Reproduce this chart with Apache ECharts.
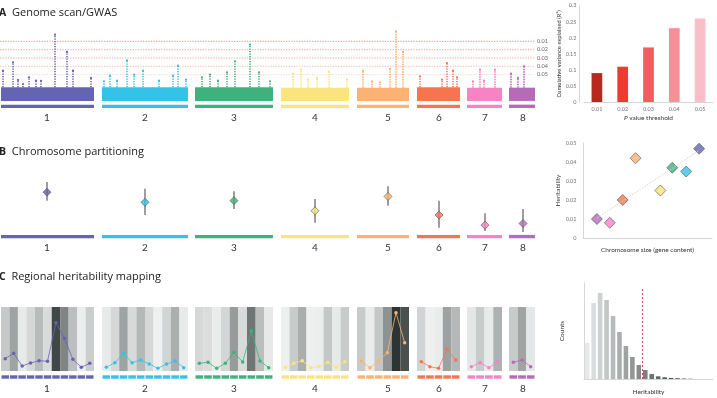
<!DOCTYPE html>
<html>
<head>
<meta charset="utf-8">
<script src="https://cdn.jsdelivr.net/npm/echarts@6/dist/echarts.min.js"></script>
<style>
  html, body { margin: 0; padding: 0; background: #fff; }
  #chart { width: 717px; height: 398px; }
</style>
</head>
<body>
<div id="chart"></div>
<script>
// chromosomes (positions along the genome axis)
const chrNames = ['1', '2', '3', '4', '5', '6', '7', '8']
const chrColors = ['#6464b2', '#33c3e8', '#3db27c', '#fbe37e', '#fdb274', '#f6754f', '#f782c4', '#b66bb9']
const chrStart = [1, 102, 195, 281, 357, 417, 467, 509]
const chrEnd = [94, 188, 273, 349, 409, 460, 502, 535]
const chrMid = [47, 145, 234, 315, 388, 439, 485, 523]

// A - genome scan (-log10 P)
const blobTop = [1.57, 1.57, 1.57, 1.52, 1.52, 1.57, 1.52, 1.52]
const peakPos = [
  [3, 13, 18, 23, 29, 36, 41, 55, 67, 73, 91],
  [104, 110, 117, 127, 134, 143, 159, 173, 178, 186],
  [202, 210, 218, 227, 235, 250, 259, 270],
  [293, 301, 308, 317, 329, 347],
  [363, 372, 380, 390, 396, 403],
  [420, 442, 447, 453, 457],
  [473, 480, 484, 495],
  [511, 518, 524]
]
const peakVal = [
  [3.46, 4.42, 2.4, 1.94, 2.71, 2.32, 2.29, 7.58, 5.6, 3.46, 2.63],
  [2.25, 2.89, 2.32, 4.65, 3.0, 3.46, 2.32, 2.89, 4.03, 2.43],
  [2.71, 3.0, 2.32, 3.28, 4.54, 6.43, 3.28, 2.25],
  [3.12, 3.6, 2.43, 2.63, 3.35, 2.43],
  [3.46, 2.25, 2.14, 3.66, 7.97, 5.6],
  [2.82, 2.43, 4.34, 3.46, 2.71],
  [2.25, 3.58, 2.32, 3.58],
  [3.12, 2.63, 3.97]
]
const thresholdP = ['0.01', '0.02', '0.03', '0.04', '0.05']
const thresholdLog = [6.82, 5.86, 4.91, 3.97, 3.01]
const thresholdAlpha = [0.95, 0.85, 0.75, 0.6, 0.35]

// A right - cumulative variance explained
const pThresh = ['0.01', '0.02', '0.03', '0.04', '0.05']
const cumR2 = [0.09, 0.11, 0.17, 0.23, 0.26]
const barColors = ['#b8281f', '#ee3a31', '#f55c61', '#f78f99', '#f9bec8']

// B - chromosome partitioning
const chrH = [0.047, 0.035, 0.037, 0.025, 0.042, 0.020, 0.008, 0.010]
const chrHLo = [0.037, 0.020, 0.027, 0.011, 0.031, 0.005, 0.001, 0.000]
const chrHHi = [0.059, 0.051, 0.048, 0.039, 0.054, 0.037, 0.022, 0.027]
const chrSize = [117, 104, 90, 78, 53, 40, 27, 14]
const trendX = [14, 117]
const trendY = [0.0105, 0.046]

// C - regional heritability (per window) and region shading
const regionH = [
  [12.3, 17.7, 5, 8, 10.3, 9.7, 48.3, 32.7, 11.7, 3.7, 7.7],
  [3.7, 8.3, 17.7, 8.3, 11, 7, 2.7, 7, 10, 3.3],
  [7.7, 8.7, 2.7, 7.7, 18.7, 9, 40, 10, 3.3],
  [3.7, 7.7, 10.3, 3.3, 4.7, 8.7, 3.7, 9.3],
  [10, 3.3, 10, 18.3, 58.3, 28.3],
  [9.3, 4.3, 2.7, 21.7, 11],
  [4.3, 8.3, 3.3, 9.3],
  [8.7, 11, 4.3]
]
const regionShade = [
  [0.21, 0.41, 0.03, 0.13, 0.28, 0.11, 0.9, 0.57, 0.26, 0.01, 0.18],
  [0.03, 0.13, 0.41, 0.12, 0.3, 0.13, 0.0, 0.15, 0.35, 0.03],
  [0.13, 0.1, 0.02, 0.14, 0.45, 0.11, 0.65, 0.27, 0.04],
  [0.0, 0.2, 0.35, 0.0, 0.01, 0.22, 0.03, 0.2],
  [0.2, 0.02, 0.22, 0.5, 1.0, 0.85],
  [0.15, 0.0, 0.02, 0.42, 0.3],
  [0.05, 0.2, 0.03, 0.33],
  [0.2, 0.4, 0.05]
]

// C right - histogram of regional heritability
const histX = [0.005, 0.015, 0.025, 0.035, 0.045, 0.055, 0.065, 0.075, 0.085, 0.095, 0.105, 0.115, 0.125, 0.135, 0.145, 0.155, 0.165]
const histCount = [36, 76, 86, 79, 63, 47, 33, 22, 14, 9, 5, 2.7, 1.7, 1.0, 0.7, 0.4, 0.2]
const histCut = 0.0905

const FONT = 'Lato, "Open Sans", sans-serif'
const TITLE_FONT = '"Open Sans", sans-serif'

function grey(t) {
  const a = [238, 240, 240], b = [44, 53, 51]
  return 'rgb(' + a.map((v, k) => Math.round(v + (b[k] - v) * t)).join(',') + ')'
}

function rectOf(api, x0, y0, x1, y1) {
  const p0 = api.coord([x0, y0]), p1 = api.coord([x1, y1])
  return {
    x: Math.min(p0[0], p1[0]), y: Math.min(p0[1], p1[1]),
    width: Math.abs(p1[0] - p0[0]), height: Math.abs(p1[1] - p0[1])
  }
}

// flattened data for custom series
const peakData = []
peakPos.forEach((arr, c) => arr.forEach((x, k) => peakData.push([x, peakVal[c][k], c])))

const windowData = []
regionH.forEach((arr, c) => {
  const w = (chrEnd[c] - chrStart[c]) / arr.length
  arr.forEach((h, k) => windowData.push([chrStart[c] + k * w, chrStart[c] + (k + 1) * w, regionShade[c][k], c]))
})

const chartAxisX = (gridIndex, margin) => ({
  type: 'value', gridIndex, min: 0, max: 540,
  axisLine: { show: false }, axisTick: { show: false }, splitLine: { show: false },
  axisLabel: {
    customValues: chrMid, margin, fontSize: 10, color: '#333', fontFamily: FONT,
    formatter: v => chrNames[chrMid.indexOf(v)]
  }
})
const hiddenY = (gridIndex, min, max) => ({
  type: 'value', gridIndex, min, max, show: false, splitLine: { show: false }
})
const lightLine = { lineStyle: { color: '#d6d6d6', width: 1 } }
const smallLabel = { fontSize: 5.5, color: '#777', fontFamily: FONT }

const series = []

// A: blobs + chromosome bars
series.push({
  type: 'custom', xAxisIndex: 0, yAxisIndex: 0, z: 2,
  data: chrStart.map((s, i) => [s, chrEnd[i], blobTop[i]]),
  renderItem: (params, api) => {
    const i = params.dataIndex
    return {
      type: 'group', children: [
        { type: 'rect', shape: rectOf(api, api.value(0), 0, api.value(1), api.value(2)), style: { fill: chrColors[i] } },
        { type: 'rect', shape: rectOf(api, api.value(0), -0.42, api.value(1), -0.8), style: { fill: chrColors[i] } }
      ]
    }
  }
})
// A: peaks as dotted columns
series.push({
  type: 'custom', xAxisIndex: 0, yAxisIndex: 0, z: 3,
  data: peakData,
  renderItem: (params, api) => {
    const c = api.value(2)
    const p0 = api.coord([api.value(0), blobTop[c]])
    const p1 = api.coord([api.value(0), api.value(1)])
    return {
      type: 'group', children: [
        { type: 'line', shape: { x1: p0[0], y1: p0[1], x2: p1[0], y2: p1[1] },
          style: { stroke: chrColors[c], lineWidth: 1.6, lineDash: [1.3, 1.2] } },
        { type: 'circle', shape: { cx: p1[0], cy: p1[1], r: 1.1 }, style: { fill: chrColors[c] } }
      ]
    }
  }
})
// A: threshold lines
series.push({
  type: 'custom', xAxisIndex: 0, yAxisIndex: 0, z: 1,
  data: thresholdLog.map(v => [v]),
  renderItem: (params, api) => {
    const i = params.dataIndex
    const p0 = api.coord([0, api.value(0)])
    const p1 = api.coord([chrEnd[chrEnd.length - 1], api.value(0)])
    return {
      type: 'group', children: [
        { type: 'line', shape: { x1: p0[0], y1: p0[1], x2: p1[0], y2: p1[1] },
          style: { stroke: '#ec7f78', opacity: thresholdAlpha[i], lineWidth: 0.9, lineDash: [1.3, 1.3] } },
        { type: 'text', x: p1[0] + 2, y: p1[1],
          style: { text: thresholdP[i], fill: '#666', fontSize: 5.5, fontFamily: FONT, verticalAlign: 'middle' } }
      ]
    }
  }
})

// A right: bars
series.push({
  type: 'bar', xAxisIndex: 3, yAxisIndex: 3, barWidth: 10.7,
  data: cumR2.map((v, i) => ({ value: v, itemStyle: { color: barColors[i] } }))
})

// B: chromosome bars and error bars
series.push({
  type: 'custom', xAxisIndex: 1, yAxisIndex: 1,
  data: chrStart.map((s, i) => [s, chrEnd[i]]),
  renderItem: (params, api) => ({
    type: 'rect', shape: rectOf(api, api.value(0), -0.0035, api.value(1), -0.0075),
    style: { fill: chrColors[params.dataIndex] }
  })
})
series.push({
  type: 'custom', xAxisIndex: 1, yAxisIndex: 1, z: 3,
  data: chrMid.map((x, i) => [x, chrHLo[i], chrHHi[i]]),
  renderItem: (params, api) => {
    const p0 = api.coord([api.value(0), api.value(1)])
    const p1 = api.coord([api.value(0), api.value(2)])
    return { type: 'line', shape: { x1: p0[0], y1: p0[1], x2: p1[0], y2: p1[1] },
      style: { stroke: '#6a6a6a', lineWidth: 1.3 } }
  }
})
series.push({
  type: 'scatter', xAxisIndex: 1, yAxisIndex: 1, z: 4, symbol: 'diamond', symbolSize: 8,
  data: chrMid.map((x, i) => ({ value: [x, chrH[i]], itemStyle: { color: chrColors[i], borderColor: '#555', borderWidth: 0.8 } }))
})

// B right: trend + scatter
series.push({
  type: 'line', xAxisIndex: 4, yAxisIndex: 4, symbol: 'none',
  data: trendX.map((x, i) => [x, trendY[i]]),
  lineStyle: { color: '#c9d6cc', width: 1, type: [1.5, 1.5] }
})
series.push({
  type: 'scatter', xAxisIndex: 4, yAxisIndex: 4, symbol: 'diamond', symbolSize: 11,
  data: chrSize.map((x, i) => ({ value: [x, chrH[i]], itemStyle: { color: chrColors[i], borderColor: '#555', borderWidth: 0.8 } }))
})

// C: shaded windows + segmented chromosome bars
series.push({
  type: 'custom', xAxisIndex: 2, yAxisIndex: 2, z: 1,
  data: windowData,
  renderItem: (params, api) => {
    const c = api.value(3)
    const seg = rectOf(api, api.value(0), -4.3, api.value(1), -7.7)
    seg.x += 0.5
    seg.width -= 1
    return {
      type: 'group', children: [
        { type: 'rect', shape: rectOf(api, api.value(0), 64, api.value(1), 0), style: { fill: grey(api.value(2)) } },
        { type: 'rect', shape: seg, style: { fill: chrColors[c] } }
      ]
    }
  }
})
regionH.forEach((arr, c) => {
  const w = (chrEnd[c] - chrStart[c]) / arr.length
  series.push({
    type: 'line', xAxisIndex: 2, yAxisIndex: 2, z: 3,
    symbol: 'circle', symbolSize: 3.5,
    data: arr.map((h, k) => [chrStart[c] + (k + 0.5) * w, h]),
    itemStyle: { color: chrColors[c] },
    lineStyle: { color: chrColors[c], width: 0.8 }
  })
})

// C right: histogram
series.push({
  type: 'bar', xAxisIndex: 5, yAxisIndex: 5, barWidth: 4.6,
  data: histX.map((x, i) => [x, histCount[i]]),
  itemStyle: { color: p => grey(0.04 + p.dataIndex * 0.062) },
  markLine: {
    silent: true, symbol: 'none', label: { show: false },
    lineStyle: { color: '#e8474a', width: 1, type: [2, 2] },
    data: [[{ coord: [histCut, 0] }, { coord: [histCut, 90] }]]
  }
})

const option = {
  animation: false,
  backgroundColor: '#fff',
  textStyle: { fontFamily: FONT },
  title: [
    { text: '{b|A}  Genome scan/GWAS', left: -1, top: 7.5 },
    { text: '{b|B}  Chromosome partitioning', left: -1, top: 146.5 },
    { text: '{b|C}  Regional heritability mapping', left: -1, top: 271.5 }
  ].map(t => Object.assign(t, {
    padding: 0,
    textStyle: { fontSize: 11, fontWeight: 'normal', color: '#222', fontFamily: TITLE_FONT,
      rich: { b: { fontSize: 10.5, fontWeight: 'bold', color: '#222', fontFamily: TITLE_FONT } } }
  })),
  grid: [
    { left: 0, top: 26.6, width: 540, height: 83.1 },
    { left: 0, top: 181.2, width: 540, height: 57.5 },
    { left: 0, top: 307, width: 540, height: 72 },
    { left: 584, top: 5.7, width: 129, height: 96.3 },
    { left: 583, top: 143, width: 129, height: 95 },
    { left: 584, top: 283, width: 129, height: 96 }
  ],
  xAxis: [
    chartAxisX(0, 3),
    chartAxisX(1, 4),
    chartAxisX(2, 5),
    {
      type: 'category', gridIndex: 3, data: pThresh,
      axisLine: lightLine, axisTick: { show: false },
      axisLabel: Object.assign({ margin: 4 }, smallLabel),
      name: '{i|P} value threshold', nameLocation: 'middle', nameGap: 12,
      nameTextStyle: { fontSize: 6.5, color: '#333', fontFamily: FONT,
        rich: { i: { fontStyle: 'italic', fontSize: 6.5, color: '#333', fontFamily: FONT } } }
    },
    {
      type: 'value', gridIndex: 4, min: 0, max: 130,
      axisLine: lightLine, axisTick: { show: false }, axisLabel: { show: false }, splitLine: { show: false },
      name: 'Chromosome size (gene content)', nameLocation: 'middle', nameGap: 8,
      nameTextStyle: { fontSize: 6.5, color: '#333', fontFamily: FONT }
    },
    {
      type: 'value', gridIndex: 5, min: 0, max: 0.2,
      axisLine: lightLine, axisTick: { show: false }, axisLabel: { show: false }, splitLine: { show: false },
      name: 'Heritability', nameLocation: 'middle', nameGap: 9,
      nameTextStyle: { fontSize: 6.5, color: '#333', fontFamily: FONT }
    }
  ],
  yAxis: [
    hiddenY(0, -1, 8.5),
    hiddenY(1, -0.008, 0.06),
    hiddenY(2, -8, 64),
    {
      type: 'value', gridIndex: 3, min: 0, max: 0.3, interval: 0.05, offset: 5,
      axisLine: Object.assign({ show: true }, lightLine), axisTick: { show: false }, splitLine: { show: false },
      axisLabel: Object.assign({ margin: 2.5 }, smallLabel),
      name: 'Cumulative variance explained (R²)', nameLocation: 'middle', nameGap: 15,
      nameTextStyle: { fontSize: 5.8, color: '#333', fontFamily: FONT }
    },
    {
      type: 'value', gridIndex: 4, min: 0, max: 0.05, interval: 0.01,
      axisLine: Object.assign({ show: true }, lightLine), axisTick: { show: false }, splitLine: { show: false },
      axisLabel: Object.assign({ margin: 6.5 }, smallLabel),
      name: 'Heritability', nameLocation: 'middle', nameGap: 18,
      nameTextStyle: { fontSize: 6.5, color: '#333', fontFamily: FONT }
    },
    {
      type: 'value', gridIndex: 5, min: 0, max: 96,
      axisLine: Object.assign({ show: true }, lightLine), axisTick: { show: false }, axisLabel: { show: false }, splitLine: { show: false },
      name: 'Counts', nameLocation: 'middle', nameGap: 19,
      nameTextStyle: { fontSize: 6.5, color: '#333', fontFamily: FONT }
    }
  ],
  series
}

const chart = echarts.init(document.getElementById('chart'), null, { renderer: 'canvas' })
chart.setOption(option)
</script>
</body>
</html>
